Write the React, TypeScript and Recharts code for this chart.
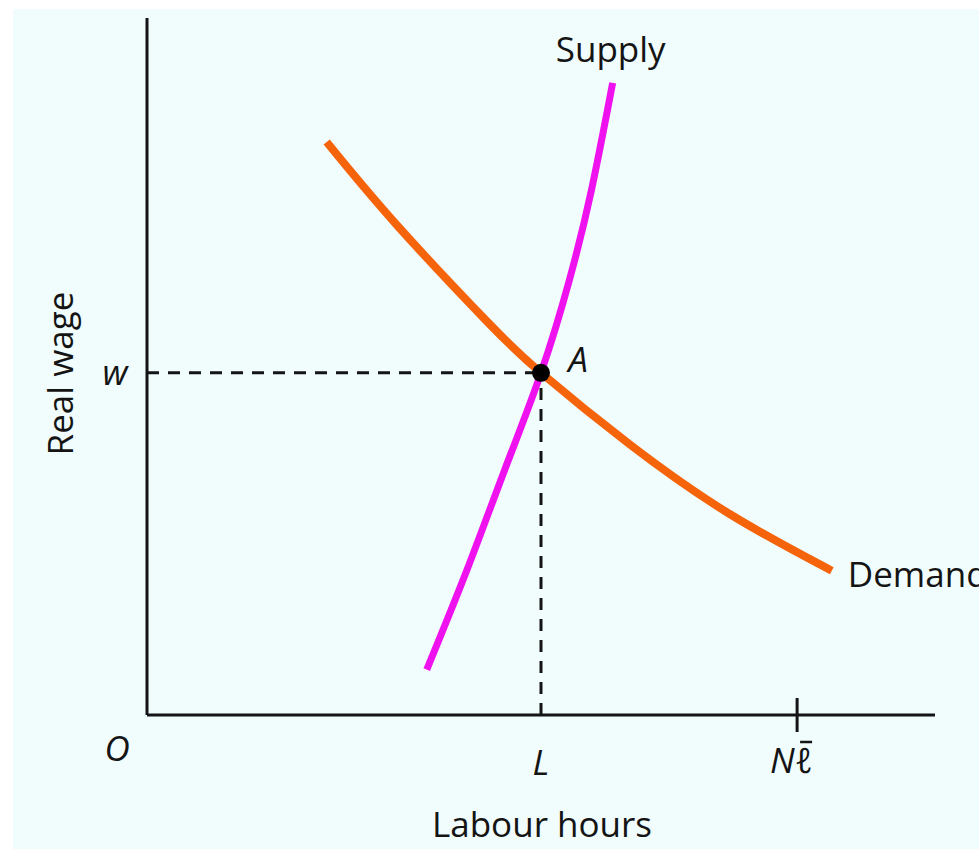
import React from 'react';
import { ComposedChart, Line, XAxis, YAxis, ReferenceLine, ReferenceDot } from 'recharts';

// Labour market: supply and demand for labour hours
const supplyHours = [35.5, 40.6, 45.4, 50.0, 53.6, 56.4, 59.1];
const supplyWage = [6.5, 20.8, 35.2, 49.1, 62.4, 75.3, 90.7];
const demandHours = [22.8, 31.7, 43.2, 50.0, 61.3, 74.0, 86.9];
const demandWage = [82.2, 70.3, 56.4, 49.1, 38.8, 28.8, 20.7];
const xTickValues = [0, 50, 82.5];
const xTickLabels = ['O', 'L', 'N\u2113'];
const yTickValues = [49.1];
const yTickLabels = ['w'];
const equilibriumHours = 50;
const equilibriumWage = 49.1;
const seriesNames = ['Supply', 'Demand'];
const xTitle = 'Labour hours';
const yTitle = 'Real wage';
const pointName = 'A';

const supplyData = supplyHours.map((h, i) => ({ hours: h, wage: supplyWage[i] }));
const demandData = demandHours.map((h, i) => ({ hours: h, wage: demandWage[i] }));

const FONT = '"Open Sans", sans-serif';
const INK = '#141414';

const XTick = (props: any) => {
  const { x, y, payload } = props;
  const idx = xTickValues.indexOf(payload.value);
  const label = xTickLabels[idx];
  if (idx === 0) {
    return (
      <text x={x - 30} y={y + 46} textAnchor="middle" fontFamily={FONT} fontStyle="italic" fontSize={35} fill={INK}>
        {label}
      </text>
    );
  }
  if (idx === 2) {
    return (
      <g>
        <line x1={x} x2={x} y1={y - 17} y2={y + 17} stroke={INK} strokeWidth={3} />
        <text x={x - 27} y={y + 58} textAnchor="start" fontFamily={FONT} fontStyle="italic" fontSize={35} fill={INK}>
          {label}
        </text>
        <line x1={x + 3} x2={x + 15} y1={y + 27} y2={y + 27} stroke={INK} strokeWidth={2.5} />
      </g>
    );
  }
  return (
    <text x={x} y={y + 60} textAnchor="middle" fontFamily={FONT} fontStyle="italic" fontSize={35} fill={INK}>
      {label}
    </text>
  );
};

const YTick = (props: any) => {
  const { x, y, payload } = props;
  const idx = yTickValues.indexOf(payload.value);
  return (
    <text x={x - 32} y={y + 12} textAnchor="middle" fontFamily={FONT} fontStyle="italic" fontSize={35} fill={INK}>
      {yTickLabels[idx]}
    </text>
  );
};

const SupplyLabel = (props: any) => {
  const { x, y, index } = props;
  if (index !== supplyData.length - 1) return null;
  return (
    <text x={x - 2} y={y - 21} textAnchor="middle" fontFamily={FONT} fontSize={35} fill={INK}>
      {seriesNames[0]}
    </text>
  );
};

const DemandLabel = (props: any) => {
  const { x, y, index } = props;
  if (index !== demandData.length - 1) return null;
  return (
    <text x={x + 16} y={y + 16} textAnchor="start" fontFamily={FONT} fontSize={35} fill={INK}>
      {seriesNames[1]}
    </text>
  );
};

const PointLabel = (props: any) => {
  const vb = props.viewBox || {};
  const cx = vb.x + (vb.width || 0) / 2;
  const cy = vb.y + (vb.height || 0) / 2;
  return (
    <text x={cx + 37} y={cy - 1} textAnchor="middle" fontFamily={FONT} fontStyle="italic" fontSize={35} fill={INK}>
      {pointName}
    </text>
  );
};

const XTitle = (props: any) => {
  const vb = props.viewBox || {};
  return (
    <text x={vb.x + vb.width / 2 + 1} y={vb.y + 122} textAnchor="middle" fontFamily={FONT} fontSize={35} fill={INK}>
      {xTitle}
    </text>
  );
};

const YTitle = (props: any) => {
  const vb = props.viewBox || {};
  const cx = 60;
  const cy = vb.y + vb.height / 2 + 7;
  return (
    <text x={cx} y={cy} transform={`rotate(-90, ${cx}, ${cy})`} textAnchor="middle" fontFamily={FONT} fontSize={35} fill={INK}>
      {yTitle}
    </text>
  );
};

export default function App() {
  return (
    <div style={{ position: 'absolute', left: 13, top: 9, width: 966, height: 840, background: '#f1fcfc', overflow: 'hidden' }}>
      <ComposedChart width={966} height={840} margin={{ top: 9, right: 44, left: 0, bottom: 0 }}>
        <XAxis
          type="number"
          dataKey="hours"
          domain={[0, 100]}
          ticks={xTickValues}
          interval={0}
          allowDataOverflow
          height={134}
          tickLine={false}
          tickSize={0}
          tickMargin={0}
          axisLine={{ stroke: INK, strokeWidth: 3 }}
          tick={<XTick />}
          label={<XTitle />}
        />
        <YAxis
          type="number"
          domain={[0, 100]}
          ticks={yTickValues}
          interval={0}
          allowDataOverflow
          width={134}
          tickLine={false}
          tickSize={0}
          tickMargin={0}
          axisLine={{ stroke: INK, strokeWidth: 3 }}
          tick={<YTick />}
          label={<YTitle />}
        />
        <ReferenceLine
          segment={[{ x: 0, y: equilibriumWage }, { x: equilibriumHours, y: equilibriumWage }]}
          stroke={INK}
          strokeWidth={3}
          strokeDasharray="12 9"
        />
        <ReferenceLine
          segment={[{ x: equilibriumHours, y: 0 }, { x: equilibriumHours, y: equilibriumWage }]}
          stroke={INK}
          strokeWidth={3}
          strokeDasharray="12 9"
        />
        <Line
          data={demandData}
          dataKey="wage"
          type="natural"
          stroke="#f5640a"
          strokeWidth={8}
          dot={false}
          activeDot={false}
          isAnimationActive={false}
          label={<DemandLabel />}
        />
        <Line
          data={supplyData}
          dataKey="wage"
          type="natural"
          stroke="#f012ee"
          strokeWidth={7}
          dot={false}
          activeDot={false}
          isAnimationActive={false}
          label={<SupplyLabel />}
        />
        <ReferenceDot x={equilibriumHours} y={equilibriumWage} r={9} fill="#000" stroke="none" label={<PointLabel />} />
      </ComposedChart>
    </div>
  );
}
